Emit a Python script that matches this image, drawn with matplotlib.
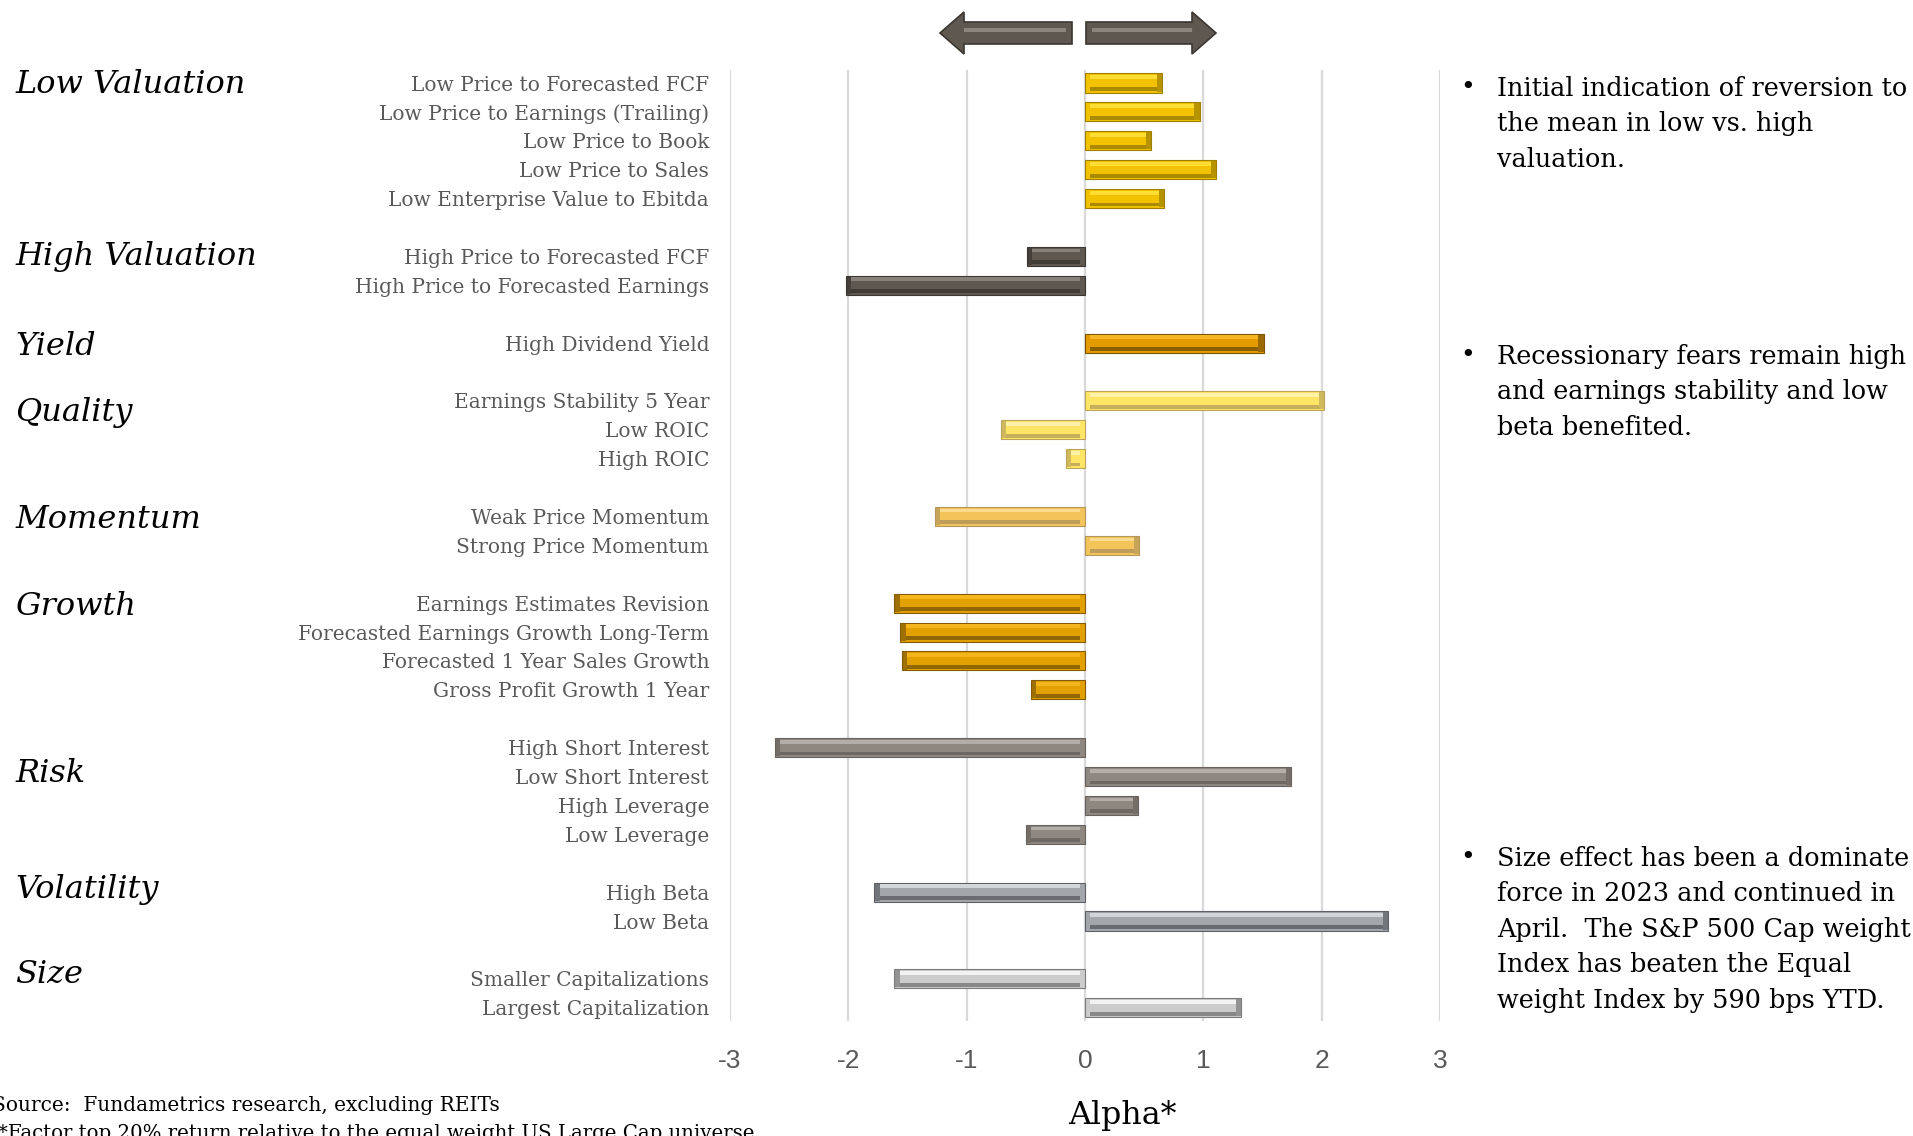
import matplotlib
matplotlib.use("Agg")
import matplotlib.pyplot as plt
import matplotlib.patches as mpatches
import matplotlib.transforms as mtransforms
import numpy as np

plt.rcParams["axes.unicode_minus"] = False

# factor data, top to bottom
group_names = ["Low Valuation", "High Valuation", "Yield", "Quality", "Momentum",
               "Growth", "Risk", "Volatility", "Size"]
factor_names = [
    ["Low Price to Forecasted FCF", "Low Price to Earnings (Trailing)", "Low Price to Book",
     "Low Price to Sales", "Low Enterprise Value to Ebitda"],
    ["High Price to Forecasted FCF", "High Price to Forecasted Earnings"],
    ["High Dividend Yield"],
    ["Earnings Stability 5 Year", "Low ROIC", "High ROIC"],
    ["Weak Price Momentum", "Strong Price Momentum"],
    ["Earnings Estimates Revision", "Forecasted Earnings Growth Long-Term",
     "Forecasted 1 Year Sales Growth", "Gross Profit Growth 1 Year"],
    ["High Short Interest", "Low Short Interest", "High Leverage", "Low Leverage"],
    ["High Beta", "Low Beta"],
    ["Smaller Capitalizations", "Largest Capitalization"],
]
alpha_values = [
    [0.65, 0.97, 0.56, 1.11, 0.67],
    [-0.49, -2.02],
    [1.51],
    [2.02, -0.71, -0.16],
    [-1.27, 0.46],
    [-1.61, -1.56, -1.55, -0.46],
    [-2.62, 1.74, 0.45, -0.50],
    [-1.78, 2.56],
    [-1.61, 1.32],
]
# where each group title sits, relative to its first row
group_label_shift = [-0.05, -0.1, 0.0, 0.3, 0.0, 0.0, 0.8, -0.2, -0.25]

# (face, highlight, shadow) per group
group_colors = [
    ("#F2C200", "#FFDD33", "#9E8000"),
    ("#5F5851", "#87817A", "#3B3631"),
    ("#E39B00", "#F6B626", "#7A5600"),
    ("#FFE566", "#FFF2A8", "#BCA55A"),
    ("#F2C45A", "#F9DA8E", "#B5975A"),
    ("#E3A100", "#F5B51C", "#835C05"),
    ("#8F8881", "#B4AEA8", "#6A635D"),
    ("#A3A7AB", "#D3D6D9", "#5E6266"),
    ("#CCCCCC", "#F2F2F2", "#7C7C7C"),
]

bullets = [
    "Initial indication of reversion to\nthe mean in low vs. high\nvaluation.",
    "Recessionary fears remain high\nand earnings stability and low\nbeta benefited.",
    "Size effect has been a dominate\nforce in 2023 and continued in\nApril.  The S&P 500 Cap weight\n"
    "Index has beaten the Equal\nweight Index by 590 bps YTD.",
]
x_ticks = [-3, -2, -1, 0, 1, 2, 3]

# flatten with one empty slot between groups
labels, values, slots, face, light, dark = [], [], [], [], [], []
group_first_slot = []
slot = 0
for g, names in enumerate(factor_names):
    group_first_slot.append(slot)
    for name, val in zip(names, alpha_values[g]):
        labels.append(name)
        values.append(val)
        slots.append(slot)
        face.append(group_colors[g][0])
        light.append(group_colors[g][1])
        dark.append(group_colors[g][2])
        slot += 1
    slot += 1
values = np.array(values)
slots = np.array(slots, dtype=float)
sign = np.sign(values)

W, H = 1913, 1136
fig = plt.figure(figsize=(W / 100, H / 100), dpi=100)
ax = fig.add_axes([730 / W, 1 - 1021 / H, 710 / W, 951 / H])

bar_h = 0.66
cap = 0.045
# bevelled bars: face, then top highlight and bottom shadow facets, then end caps
ax.barh(slots, values, height=bar_h, color=face, edgecolor=dark, linewidth=0.8, zorder=3)
inner = values - 2 * cap * sign
ax.barh(slots - bar_h * 0.31, inner, left=cap * sign, height=bar_h * 0.2,
        color=light, linewidth=0, zorder=4)
ax.barh(slots + bar_h * 0.31, inner, left=cap * sign, height=bar_h * 0.2,
        color=dark, linewidth=0, zorder=4, alpha=0.85)
ax.barh(slots, cap * sign, left=values - cap * sign, height=bar_h * 0.9,
        color=dark, linewidth=0, zorder=4, alpha=0.7)

ax.set_xlim(-3, 3)
ax.set_ylim(32.46, -0.45)
ax.set_xticks(x_ticks)
ax.set_xticklabels([str(t) for t in x_ticks])
ax.set_yticks(slots)
ax.set_yticklabels(labels)
ax.grid(axis="x", color="#D9D9D9", linewidth=1.6, zorder=0)
ax.set_axisbelow(True)
for s in ax.spines.values():
    s.set_visible(False)
ax.tick_params(axis="both", length=0)
ax.tick_params(axis="y", pad=15, labelsize=14.5, labelcolor="#595959")
ax.tick_params(axis="x", pad=20, labelsize=19, labelcolor="#595959")
for t in ax.get_yticklabels():
    t.set_family("DejaVu Serif")
for t in ax.get_xticklabels():
    t.set_family("Liberation Sans")

# group titles on the far left
blend = mtransforms.blended_transform_factory(fig.transFigure, ax.transData)
for g, name in enumerate(group_names):
    tr = mtransforms.offset_copy(blend, fig=fig, x=0, y=-8.4, units="points")
    ax.text(15 / W, group_first_slot[g] + group_label_shift[g], name, transform=tr,
            fontsize=23, style="italic", family="DejaVu Serif", color="black",
            ha="left", va="baseline", clip_on=False)

# direction arrows above the plot
arrow_y = 1 - 33 / H
for tail, tip in [(1072, 940), (1086, 1216)]:
    arr = mpatches.FancyArrow(tail / W, arrow_y, (tip - tail) / W, 0, width=22 / H,
                              head_width=42 / H, head_length=24 / W,
                              length_includes_head=True, transform=fig.transFigure,
                              facecolor="#5F5851", edgecolor="#3B3631", linewidth=1.2)
    fig.add_artist(arr)
    hi = mpatches.FancyArrow(tail / W + np.sign(tip - tail) * 6 / W, arrow_y + 3 / H,
                             (tip - tail) / W - np.sign(tip - tail) * 30 / W, 0,
                             width=4 / H, head_width=4 / H, head_length=0.0001,
                             transform=fig.transFigure, facecolor="#8C857E",
                             edgecolor="none")
    fig.add_artist(hi)

# commentary bullets, top of first line in pixels
for text, top in zip(bullets, [76, 344, 846]):
    fig.text(1460 / W, 1 - top / H, "\u2022", fontsize=18, family="DejaVu Serif",
             ha="left", va="top", color="black")
    fig.text(1497 / W, 1 - top / H, text, fontsize=18.4, family="DejaVu Serif",
             ha="left", va="top", color="black", linespacing=1.52)

fig.text(1122 / W, 1 - 1124 / H, "Alpha*", fontsize=22.8, family="DejaVu Serif",
         ha="center", va="baseline", color="black")
fig.text(-8 / W, 1 - 1111 / H, "Source:  Fundametrics research, excluding REITs",
         fontsize=14.5, family="DejaVu Serif", ha="left", va="baseline", color="black")
fig.text(-2 / W, 1 - 1139 / H,
         "*Factor top 20% return relative to the equal weight US Large Cap universe",
         fontsize=14.2, family="DejaVu Serif", ha="left", va="baseline", color="black")

fig.savefig("out.png", dpi=100, facecolor="white")
